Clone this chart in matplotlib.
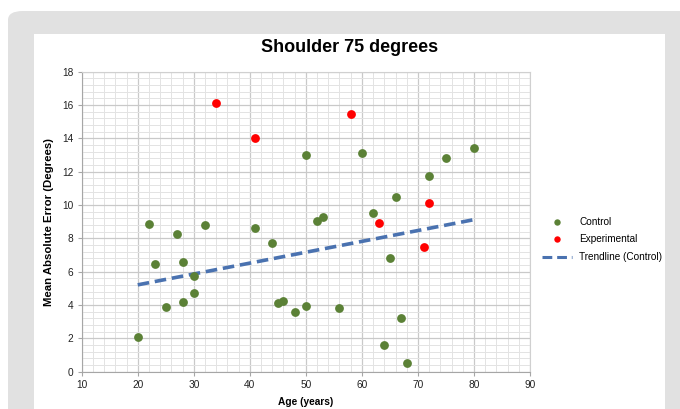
import matplotlib.pyplot as plt
import numpy as np
from matplotlib.patches import FancyBboxPatch, Rectangle
from matplotlib.lines import Line2D

plt.rcParams['font.family'] = ['Liberation Sans', 'DejaVu Sans']

# control group: age vs mean absolute error
control_age = [20, 22, 23, 25, 27, 28, 28, 30, 30, 32, 41, 44, 45, 46, 48,
               50, 50, 52, 53, 56, 60, 62, 64, 65, 66, 67, 68, 72, 75, 80]
control_err = [2.1, 8.85, 6.45, 3.9, 8.28, 6.6, 4.2, 5.75, 4.7, 8.8, 8.65, 7.7, 4.15, 4.25, 3.6,
               13.0, 3.95, 9.05, 9.3, 3.85, 13.15, 9.5, 1.6, 6.8, 10.5, 3.25, 0.5, 11.75, 12.8, 13.4]

# experimental group
exp_age = [34, 41, 58, 63, 71, 72]
exp_err = [16.15, 14.05, 15.45, 8.95, 7.5, 10.15]

x_ticks = [10, 20, 30, 40, 50, 60, 70, 80, 90]
y_ticks = [0, 2, 4, 6, 8, 10, 12, 14, 16, 18]

green = '#5b8136'
blue = '#4a72b0'

fig = plt.figure(figsize=(6.8, 4.09), dpi=100)
W, H = 680, 409

# grey card with white panel inside
fig.patches.append(FancyBboxPatch((8 / W, -0.2), 700 / W, 1.2 - 11 / H,
                                  boxstyle='round,pad=0,rounding_size=0.022',
                                  transform=fig.transFigure, facecolor='#e1e1e1',
                                  edgecolor='none', zorder=-3))
fig.patches.append(Rectangle((34 / W, 0), (665 - 34) / W, 1 - 34 / H,
                             transform=fig.transFigure, facecolor='white',
                             edgecolor='none', zorder=-2))

ax = fig.add_axes([81.7 / W, 1 - 371.7 / H, (530 - 81.7) / W, 300 / H])

# trendline of control group (least squares)
slope, icpt = np.polyfit(control_age, control_err, 1)
tx = np.array([min(control_age), max(control_age)])
ax.plot(tx, slope * tx + icpt, color=blue, lw=2.6, ls=(0, (3.2, 1.6)), zorder=3)

ax.scatter(control_age, control_err, s=40, color=green, zorder=4, linewidths=0)
ax.scatter(exp_age, exp_err, s=40, color='#ff0000', zorder=4, linewidths=0)

ax.set_xlim(10, 90)
ax.set_ylim(0, 18)
ax.set_xticks(x_ticks)
ax.set_yticks(y_ticks)
ax.set_xticks(np.arange(10, 91, 2), minor=True)
ax.set_yticks(np.arange(0, 18.01, 0.4), minor=True)
ax.grid(which='major', color='#c9c9c9', lw=0.9)
ax.grid(which='minor', color='#e3e3e3', lw=0.7)
ax.set_axisbelow(True)
for s in ax.spines.values():
    s.set_color('#d0d0d0')
    s.set_linewidth(0.8)
ax.spines['left'].set_color('#a6a6a6')
ax.spines['bottom'].set_color('#a6a6a6')
ax.tick_params(which='major', length=3, color='#a6a6a6', labelsize=7.3, pad=3, labelcolor='#222222')
ax.tick_params(which='minor', length=0)

fig.text(349.5 / W, 1 - 48 / H, 'Shoulder 75 degrees', fontsize=13, fontweight='bold',
         ha='center', va='center')
ax.set_xlabel('Age (years)', fontsize=7.3, fontweight='bold', labelpad=5)
ax.set_ylabel('Mean Absolute Error (Degrees)', fontsize=8.2, fontweight='bold', labelpad=6)

handles = [
    Line2D([], [], ls='none', marker='o', ms=4.6, color=green, mec='none', label='Control'),
    Line2D([], [], ls='none', marker='o', ms=4.6, color='#ff0000', mec='none', label='Experimental'),
    Line2D([], [], color=blue, lw=2.2, ls=(0, (3.2, 1.6)), label='Trendline (Control)'),
]
fig.legend(handles=handles, loc='center left', bbox_to_anchor=(542 / W, 1 - 239.5 / H),
           frameon=False, fontsize=7.2, handlelength=3.0, handletextpad=0.7,
           labelspacing=0.75, borderaxespad=0, borderpad=0)

fig.savefig('out.png', dpi=100)
